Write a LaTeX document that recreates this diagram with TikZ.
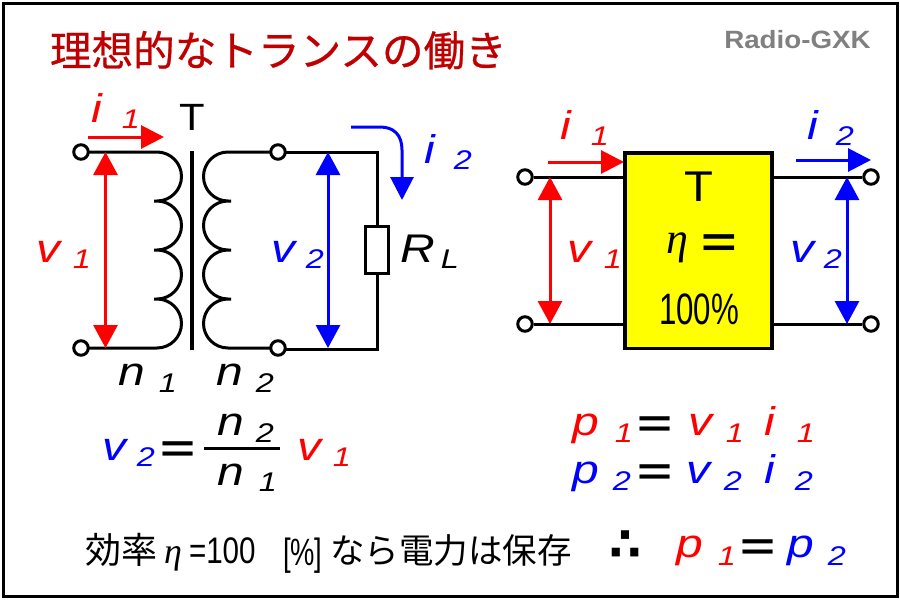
\documentclass[tikz,border=0pt]{standalone}
\usepackage{graphicx}
\usepackage{fontspec}
\setmainfont{Liberation Sans}
\newfontfamily\jpf{Noto Sans CJK JP}
\newfontfamily\jpt[FakeBold=0.6]{Noto Sans CJK JP}
\newfontfamily\serifit[ItalicFont={Liberation Serif Italic}]{Liberation Serif}
\newfontfamily\djvf{DejaVu Sans}
\usetikzlibrary{arrows.meta}
\definecolor{titlered}{RGB}{192,0,0}
\definecolor{blu}{RGB}{0,0,255}
\definecolor{rd}{RGB}{255,0,0}
\definecolor{logogray}{RGB}{128,128,128}
\definecolor{boxyellow}{RGB}{255,255,0}
\newcommand\ltr[1]{{\fontsize{40}{40}\selectfont\itshape\scalebox{1.2}[1]{#1}}}
\newcommand\sbs[1]{{\fontsize{27}{27}\selectfont\itshape\scalebox{1.2}[1]{#1}}}
\newcommand\eqs{{\fontsize{40}{40}\selectfont\bfseries\scalebox{1.5}[.95]{=}}}
\newcommand\lab[5]{\node[lbl,text=#1] (#2) at (#3,#4) {#5};}
\newcommand\bumpR{.. controls +(13.5,0) and +(0,-13.5) .. ++(24.5,24.5) .. controls +(0,13.5) and +(13.5,0) .. ++(-24.5,24.5)}
\newcommand\bumpL{.. controls +(-13.5,0) and +(0,-13.5) .. ++(-24.5,24.5) .. controls +(0,13.5) and +(-13.5,0) .. ++(24.5,24.5)}
\tikzset{
  lbl/.style={anchor=base,inner sep=0pt,outer sep=0pt},
  term/.style={circle,draw=black,fill=white,line width=3pt,minimum size=14.5pt,inner sep=0pt},
  wire/.style={draw=black,line width=3pt},
  thick wire/.style={draw=black,line width=3.5pt},
  redarrow/.style={draw=rd,line width=3pt,-{Triangle[length=23pt,width=23pt]}},
  bluearrow/.style={draw=blu,line width=3pt,-{Triangle[length=23pt,width=23pt]}},
  redboth/.style={draw=rd,line width=3pt,{Triangle[length=23pt,width=24pt]}-{Triangle[length=23pt,width=24pt]}},
  blueboth/.style={draw=blu,line width=3pt,{Triangle[length=23pt,width=24pt]}-{Triangle[length=23pt,width=24pt]}}
}
\begin{document}
\begin{tikzpicture}[x=1pt,y=-1pt]
\useasboundingbox (0,0) rectangle (900,600);
\fill[white] (0,0) rectangle (900,600);
\draw[line width=2.5pt,black] (3.5,3.5) rectangle (897.5,596.5);
% title
\node[lbl,anchor=base west,text=titlered] (title) at (50,66) {\jpt\fontsize{41.6}{41.6}\selectfont 理想的なトランスの働き};
\node[lbl,anchor=base,text=logogray] (logo) at (797.5,48) {\fontsize{25}{25}\selectfont\bfseries\scalebox{1.11}[1]{Radio-GXK}};
% left circuit coordinates
\coordinate (c1t) at (157,152);
\coordinate (c2t) at (228,152);
\coordinate (rt) at (377,152);
\coordinate (rb) at (377,349);
\coordinate (coreT) at (192,151);
\coordinate (coreB) at (192,350);
\node[draw=black,line width=3pt,fill=white,minimum width=23pt,minimum height=47pt,inner sep=0pt] (RL) at (377,250) {};
\draw[wire] (81,152) -- (c1t) \bumpR -- ++(-3,0) -- ++(3,0) \bumpR -- ++(-3,0) -- ++(3,0) \bumpR -- ++(-3,0) -- ++(3,0) \bumpR -- (81,348);
\draw[wire] (278,152) -- (c2t) \bumpL -- ++(3,0) -- ++(-3,0) \bumpL -- ++(3,0) -- ++(-3,0) \bumpL -- ++(3,0) -- ++(-3,0) \bumpL -- (278,348);
\draw[wire] (278,152) -- (rt) -- (RL.north);
\draw[wire] (RL.south) -- (rb) -- (278,349);
\draw[thick wire] (coreT) -- (coreB);
\node[term] (t1) at (81,152) {};
\node[term] (t2) at (81,348) {};
\node[term] (t3) at (278,152) {};
\node[term] (t4) at (278,348) {};
\coordinate (va) at (105.5,152); \coordinate (vb) at (105.5,348);
\coordinate (vc) at (328,152); \coordinate (vd) at (328,348);
\draw[redboth] (va) -- (vb);
\draw[blueboth] (vc) -- (vd);
\coordinate (ia) at (88,137); \coordinate (ib) at (164,137);
\draw[redarrow] (ia) -- (ib);
\coordinate (ic) at (351,127); \coordinate (id) at (402,200);
\draw[bluearrow] (ic) -- (380,127) .. controls (394,127) and (402,135) .. (402,150) -- (id);
% left labels
\lab{rd}{li}{97}{122}{\ltr{i}}
\lab{rd}{lis}{131}{128}{\sbs{1}}
\lab{black}{lT}{192}{130}{\fontsize{38}{38}\selectfont\scalebox{1.1}[1]{T}}
\lab{rd}{lv}{48}{262}{\ltr{v}}
\lab{rd}{lvs}{82}{268}{\sbs{1}}
\lab{blu}{lvb}{283}{262}{\ltr{v}}
\lab{blu}{lvbs}{315}{268}{\sbs{2}}
\lab{blu}{lib}{430}{163}{\ltr{i}}
\lab{blu}{libs}{463}{169}{\sbs{2}}
\lab{black}{lR}{418}{262}{\ltr{R}}
\lab{black}{lRs}{450}{268}{\sbs{L}}
\lab{black}{ln}{132}{385}{\ltr{n}}
\lab{black}{lns}{168}{392}{\sbs{1}}
\lab{black}{lnb}{230}{385}{\ltr{n}}
\lab{black}{lnbs}{265}{392}{\sbs{2}}
% right block
\node[term] (p1) at (525,177) {};
\node[term] (p2) at (525,324) {};
\node[term] (p3) at (871,177) {};
\node[term] (p4) at (871,324) {};
\node[draw=black,fill=boxyellow,line width=3.5pt,minimum width=147pt,minimum height=195.5pt,inner sep=0pt] (box) at (698.3,250.5) {};
\draw[wire] (p1) -- (box.west |- p1);
\draw[wire] (p2) -- (box.west |- p2);
\draw[wire] (box.east |- p3) -- (p3);
\draw[wire] (box.east |- p4) -- (p4);
\coordinate (ra) at (550,177); \coordinate (rc) at (550,324);
\coordinate (rd1) at (847,177); \coordinate (re) at (847,324);
\draw[redboth] (ra) -- (rc);
\draw[blueboth] (rd1) -- (re);
\coordinate (rf) at (548,162); \coordinate (rg) at (624,162);
\coordinate (rh) at (796,160); \coordinate (ri) at (871,160);
\draw[redarrow] (rf) -- (rg);
\draw[bluearrow] (rh) -- (ri);
\lab{black}{bT}{699}{201}{\fontsize{43}{43}\selectfont\scalebox{1.1}[1]{T}}
\lab{black}{beta}{677}{253}{\serifit\fontsize{44}{44}\selectfont\itshape η}
\lab{black}{beq}{719}{256}{\fontsize{42}{42}\selectfont\bfseries\scalebox{1.45}[1]{=}}
\lab{black}{bpc}{699}{324}{\fontsize{44}{44}\selectfont\scalebox{.71}[1]{100\%}}
\lab{rd}{ri1}{566}{139}{\ltr{i}}
\lab{rd}{ri1s}{600}{145}{\sbs{1}}
\lab{blu}{ri2}{813}{139}{\ltr{i}}
\lab{blu}{ri2s}{845}{145}{\sbs{2}}
\lab{rd}{rv1}{579}{262}{\ltr{v}}
\lab{rd}{rv1s}{613}{268}{\sbs{1}}
\lab{blu}{rv2}{802}{262}{\ltr{v}}
\lab{blu}{rv2s}{833}{268}{\sbs{2}}
% formula v2 = n2/n1 v1
\lab{blu}{fv}{114}{460}{\ltr{v}}
\lab{blu}{fvs}{146}{466}{\sbs{2}}
\lab{black}{feq}{178}{461}{\eqs}
\coordinate (fa) at (204,448); \coordinate (fb) at (280,448);
\draw[wire] (fa) -- (fb);
\lab{black}{fn}{231}{435}{\ltr{n}}
\lab{black}{fns}{265}{442}{\sbs{2}}
\lab{black}{fd}{231}{485}{\ltr{n}}
\lab{black}{fds}{268}{491}{\sbs{1}}
\lab{rd}{fv1}{309}{460}{\ltr{v}}
\lab{rd}{fv1s}{342}{466}{\sbs{1}}
% power
\lab{rd}{pa}{586}{435}{\ltr{p}}
\lab{rd}{pas}{624}{442}{\sbs{1}}
\lab{black}{pe}{655}{436}{\eqs}
\lab{rd}{pb}{700}{435}{\ltr{v}}
\lab{rd}{pbs}{735}{442}{\sbs{1}}
\lab{rd}{pc}{770}{435}{\ltr{i}}
\lab{rd}{pcs}{806}{442}{\sbs{1}}
\lab{blu}{qa}{586}{483}{\ltr{p}}
\lab{blu}{qas}{622}{490}{\sbs{2}}
\lab{black}{qe}{655}{484}{\eqs}
\lab{blu}{qb}{698}{483}{\ltr{v}}
\lab{blu}{qbs}{733}{490}{\sbs{2}}
\lab{blu}{qc}{770}{483}{\ltr{i}}
\lab{blu}{qcs}{804}{490}{\sbs{2}}
% bottom
\node[lbl,anchor=base west] (s1) at (85,563) {\jpf\fontsize{36}{36}\selectfont 効率};
\lab{black}{s2}{173}{563}{\serifit\fontsize{36}{36}\selectfont\itshape η}
\node[lbl,anchor=base west] (s3) at (189,563) {\fontsize{37}{37}\selectfont\scalebox{.8}[1]{=100}};
\node[lbl,anchor=base west] (s4) at (283,565) {\fontsize{38}{38}\selectfont\scalebox{.72}[1]{[\%]}};
\node[lbl,anchor=base west] (s5) at (330,563) {\jpf\fontsize{34.5}{34.5}\selectfont なら電力は保存};
\lab{black}{sth}{625}{560}{\djvf\bfseries\fontsize{46}{46}\selectfont ∴}
\lab{rd}{ea}{690}{557}{\ltr{p}}
\lab{rd}{eas}{727}{565}{\sbs{1}}
\lab{black}{ee}{758}{559}{\eqs}
\lab{blu}{eb}{801}{557}{\ltr{p}}
\lab{blu}{ebs}{837}{565}{\sbs{2}}
\end{tikzpicture}
\end{document}
